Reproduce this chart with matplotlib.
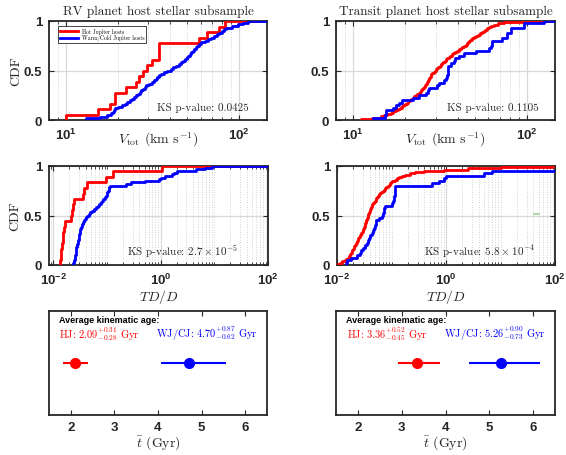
import numpy as np
import matplotlib

matplotlib.use("Agg")
import matplotlib.pyplot as plt  # noqa: E402
from matplotlib.ticker import FixedLocator, LogLocator, NullFormatter  # noqa: E402

plt.rcParams["font.family"] = ["Liberation Sans", "DejaVu Sans"]
plt.rcParams["font.weight"] = "bold"
plt.rcParams["mathtext.fontset"] = "cm"
plt.rcParams["axes.unicode_minus"] = True

SERIF = ["cmr10", "DejaVu Serif"]
RED = "#ff0000"
BLUE = "#0000ff"
INK = "#262626"

# --- total space velocity (km/s), RV sample ---
rv_hj_vtot = [10.0, 15.4, 17.9, 19.3, 19.3, 22.3, 25.5, 26.5, 28.0, 29.6,
              31.6, 34.3, 34.3, 34.3, 59.0, 65.3, 76.2, 83.0]
rv_wj_vtot = [13.1, 15.7, 17.3, 18.2, 18.8, 19.0, 19.3, 19.9, 21.0, 21.9,
              22.6, 23.4, 24.1, 24.7, 25.4, 26.1, 26.7, 27.3, 27.9, 28.5,
              29.1, 30.2, 31.3, 32.2, 33.0, 33.8, 34.6, 35.4, 37.0, 38.6,
              40.3, 41.8, 43.3, 44.9, 46.2, 47.6, 49.0, 50.0, 50.9, 51.9,
              52.8, 53.9, 55.0, 56.1, 57.3, 58.4, 60.7, 63.4, 66.2, 69.0,
              71.7, 74.4, 76.9, 79.4, 81.9, 84.2, 91.5, 99.1, 105.4, 113.0]

# --- total space velocity (km/s), transit sample ---
tr_hj_vtot = [11.1, 12.9, 14.6, 15.1, 15.7, 16.5, 17.1, 17.7, 18.2, 18.6,
              19.1, 19.5, 19.9, 20.4, 20.8, 21.2, 21.7, 22.1, 22.6, 23.0,
              23.4, 23.9, 24.2, 24.5, 24.9, 25.3, 25.6, 25.9, 26.2, 26.5,
              26.7, 27.0, 27.2, 27.5, 27.7, 28.0, 28.2, 28.6, 29.1, 29.6,
              30.1, 30.6, 31.0, 31.6, 32.1, 32.6, 33.1, 33.7, 34.2, 34.8,
              35.5, 36.3, 37.0, 37.8, 38.5, 39.6, 40.6, 41.6, 42.6, 43.7,
              44.5, 45.2, 45.9, 46.7, 47.4, 48.3, 49.7, 51.1, 52.5, 53.8,
              55.1, 56.4, 57.6, 58.9, 60.5, 62.5, 64.5, 68.5, 74.0, 105.0]
tr_wj_vtot = [13.1, 15.2, 15.5, 15.6, 17.0, 17.8, 18.3, 19.2, 22.1, 24.0,
              26.3, 27.0, 27.5, 30.5, 31.4, 33.5, 34.4, 34.9, 35.0, 35.1,
              35.2, 35.3, 36.5, 38.3, 38.5, 40.9, 43.7, 50.9, 60.6, 62.0,
              63.0, 63.4, 72.3, 77.0, 77.1, 80.6, 80.7, 96.0, 96.1, 125.0]

# --- thick-to-thin disc probability ratio TD/D ---
rv_hj_tdd = [0.0133, 0.0136, 0.0140, 0.0145, 0.0150, 0.0154, 0.0160, 0.0165,
             0.0214, 0.0222, 0.0232, 0.0243, 0.0353, 0.0374, 0.042, 0.096,
             0.132, 1.05]
rv_wj_tdd = [0.0236, 0.0242, 0.0246, 0.0249, 0.0252, 0.0255, 0.0259, 0.0261,
             0.0264, 0.0266, 0.0269, 0.0272, 0.0280, 0.0287, 0.0292, 0.0297,
             0.0302, 0.0303, 0.0306, 0.0309, 0.0313, 0.0318, 0.0327, 0.0335,
             0.0347, 0.0363, 0.038, 0.0397, 0.0413, 0.043, 0.0458, 0.0485,
             0.0526, 0.0565, 0.0617, 0.0669, 0.0718, 0.0758, 0.08, 0.085,
             0.09, 0.095, 0.098, 0.101, 0.104, 0.107, 0.111, 0.114,
             0.23, 0.28, 0.50, 0.92, 1.01, 1.22, 1.62, 1.8, 2.0, 4.5, 6.8, 9.0]
tr_hj_tdd = [0.009, 0.0115, 0.0126, 0.0139, 0.0148, 0.0157, 0.0165, 0.0170,
             0.0175, 0.0180, 0.0185, 0.0191, 0.0197, 0.0203, 0.0209, 0.0215,
             0.0220, 0.0226, 0.0232, 0.0238, 0.0243, 0.0248, 0.0255, 0.0263,
             0.0271, 0.0279, 0.0287, 0.0294, 0.0302, 0.0309, 0.0315, 0.0321,
             0.0327, 0.0332, 0.0338, 0.0344, 0.0349, 0.0355, 0.0363, 0.0370,
             0.0378, 0.0385, 0.0393, 0.0401, 0.0408, 0.0416, 0.0423, 0.0431,
             0.0439, 0.0458, 0.0475, 0.0492, 0.0509, 0.0527, 0.0545, 0.0563,
             0.0580, 0.0614, 0.0650, 0.0685, 0.0720, 0.0756, 0.0806, 0.0852,
             0.0889, 0.0935, 0.0981, 0.103, 0.114, 0.125, 0.136, 0.155,
             0.176, 0.215, 0.265, 0.40, 0.90, 2.5, 10.0, 88.0]
tr_wj_tdd = [0.0145, 0.0150, 0.018, 0.023, 0.026, 0.028, 0.030, 0.033,
             0.035, 0.037, 0.039, 0.040, 0.043, 0.045, 0.047, 0.049,
             0.051, 0.053, 0.058, 0.066, 0.070, 0.072, 0.074, 0.076,
             0.100, 0.108, 0.112, 0.113, 0.114, 0.115, 0.116, 0.117,
             0.55, 0.75, 0.92, 0.98, 5.0, 7.0, 150.0, 300.0]

ks_pvalues = ["0.0425", "0.1105", r"$2.7\times10^{-5}$", r"$5.8\times10^{-4}$"]

# --- average kinematic ages (Gyr): value, minus, plus ---
rv_ages = {"HJ": (2.09, 0.28, 0.31), "WJ/CJ": (4.70, 0.62, 0.87)}
tr_ages = {"HJ": (3.36, 0.45, 0.52), "WJ/CJ": (5.26, 0.73, 0.90)}

# small green dash left over in the transit TD/D panel
stray_x = [41.0, 51.0]
stray_y = [0.515, 0.515]

W, H = 566, 456


def box(x0, y0, x1, y1):
    return [x0 / W, 1 - y1 / H, (x1 - x0) / W, (y1 - y0) / H]


def ecdf(vals):
    # stairs from the first sample, last step carried on to the right edge
    v = np.sort(np.asarray(vals, dtype=float))
    n = len(v)
    x = np.r_[v[0], v, 1e6]
    y = np.r_[0.0, np.arange(1, n + 1) / n, 1.0]
    return x, y


def style_axes(ax, xpad=4):
    for sp in ax.spines.values():
        sp.set_color(INK)
        sp.set_linewidth(1.3)
    ax.tick_params(which="both", direction="in", top=True, right=True,
                   colors=INK, labelsize=9.5)
    ax.tick_params(axis="y", pad=5)
    ax.tick_params(axis="x", pad=xpad)
    ax.tick_params(which="major", length=3.5, width=0.8)
    ax.tick_params(which="minor", length=2, width=0.6)


def cdf_panel(ax, hj, wj, xlim, xticks, ks, ylabel, xpad):
    style_axes(ax, xpad)
    ax.set_xscale("log")
    for data, col in ((hj, RED), (wj, BLUE)):
        x, y = ecdf(data)
        ax.step(x, y, where="post", color=col, lw=2.0, zorder=3)
    ax.set_xlim(*xlim)
    ax.set_ylim(0, 1)
    ax.xaxis.set_major_locator(FixedLocator(xticks))
    ax.xaxis.set_minor_locator(LogLocator(base=10, subs=np.arange(1, 10)))
    ax.xaxis.set_minor_formatter(NullFormatter())
    ax.set_yticks([0, 0.5, 1])
    ax.set_yticklabels(["0", "0.5", "1"])
    ax.grid(True, which="major", color="#d9d9d9", lw=0.9, ls="-", zorder=0)
    ax.grid(True, which="minor", axis="x", color="#c4c4c4", lw=0.6,
            ls=(0, (1, 2)), zorder=0)
    ax.set_axisbelow(True)
    if ylabel:
        ax.set_ylabel("CDF", family=SERIF, weight="normal", fontsize=10,
                      color=INK)
        ax.yaxis.set_label_coords(-0.125, 0.5)
    ax.text(ks[0], ks[1], "KS p-value: " + ks[2], transform=ax.transAxes,
            ha="right", va="center", family=SERIF, weight="normal",
            fontsize=8, color=INK)


def age_panel(ax, ages):
    style_axes(ax)
    ax.set_xlim(1.5, 6.5)
    ax.set_ylim(0, 1)
    ax.set_xticks([2, 3, 4, 5, 6])
    ax.set_yticks([])
    ax.set_xlabel(r"$\bar{t}$ (Gyr)", family=SERIF, weight="normal",
                  fontsize=10, color=INK)
    ax.xaxis.set_label_coords(0.5, -0.17)
    ax.text(0.045, 0.915, "Average kinematic age:", transform=ax.transAxes,
            ha="left", va="center", fontsize=6.5, weight="bold", color="black")
    for (name, (val, lo, hi)), col, xt in zip(ages.items(), (RED, BLUE),
                                              (0.048, 0.493)):
        ax.errorbar([val], [0.5], xerr=[[lo], [hi]], fmt="o", color=col,
                    ms=7, lw=1.5, capsize=0, zorder=3)
        ax.text(xt, 0.785,
                name + ": $%.2f^{+%.2f}_{-%.2f}$ Gyr" % (val, hi, lo),
                transform=ax.transAxes, ha="left", va="center", color=col,
                family=SERIF, weight="normal", fontsize=7.5)


fig = plt.figure(figsize=(W / 100, H / 100), dpi=100)
fig.patch.set_facecolor("white")

ax_tl = fig.add_axes(box(49, 22, 267, 121))
ax_tr = fig.add_axes(box(336, 22, 555, 121))
ax_ml = fig.add_axes(box(49, 167, 268, 266))
ax_mr = fig.add_axes(box(337, 167, 555, 266))
ax_bl = fig.add_axes(box(49, 312, 267, 416))
ax_br = fig.add_axes(box(336, 312, 555, 416))

vlabel = r"$V_{\rm tot}$ (km s$^{-1}$)"
cdf_panel(ax_tl, rv_hj_vtot, rv_wj_vtot, (8, 145), [10, 100],
          (0.917, 0.13, ks_pvalues[0]), True, 5)
cdf_panel(ax_tr, tr_hj_vtot, tr_wj_vtot, (8, 145), [10, 100],
          (0.924, 0.13, ks_pvalues[1]), False, 5)
cdf_panel(ax_ml, rv_hj_tdd, rv_wj_tdd, (0.0083, 100), [1e-2, 1, 1e2],
          (0.863, 0.145, ks_pvalues[2]), True, 5)
cdf_panel(ax_mr, tr_hj_tdd, tr_wj_tdd, (0.01, 100), [1e-2, 1, 1e2],
          (0.905, 0.145, ks_pvalues[3]), False, 5)

for ax in (ax_tl, ax_tr):
    ax.set_xlabel(vlabel, family=SERIF, weight="normal", fontsize=10,
                  color=INK)
    ax.xaxis.set_label_coords(0.5, -0.1)
for ax in (ax_ml, ax_mr):
    ax.set_xlabel(r"$TD/D$", family=SERIF, weight="normal", fontsize=10,
                  color=INK)
    ax.xaxis.set_label_coords(0.5, -0.225)

ax_mr.plot(stray_x, stray_y, color="#a9cf8f", lw=1.2, zorder=2)

ax_tl.set_title("RV planet host stellar subsample", family=SERIF,
                weight="normal", fontsize=9.5, color=INK, pad=5)
ax_tr.set_title("Transit planet host stellar subsample", family=SERIF,
                weight="normal", fontsize=9.5, color=INK, pad=5)

leg_handles = [plt.Line2D([], [], color=RED, lw=2),
               plt.Line2D([], [], color=BLUE, lw=2)]
leg = ax_tl.legend(leg_handles, ["Hot Jupiter hosts", "Warm/Cold Jupiter hosts"],
                   loc="upper left", bbox_to_anchor=(0.041, 0.95),
                   borderaxespad=0, fancybox=False, framealpha=1,
                   edgecolor=INK, handlelength=3.4, handletextpad=0.6,
                   borderpad=0.3, labelspacing=0.15,
                   prop={"family": SERIF, "weight": "normal", "size": 4})
leg.get_frame().set_linewidth(0.6)

age_panel(ax_bl, rv_ages)
age_panel(ax_br, tr_ages)

fig.savefig("out.png", dpi=100, facecolor="white")
